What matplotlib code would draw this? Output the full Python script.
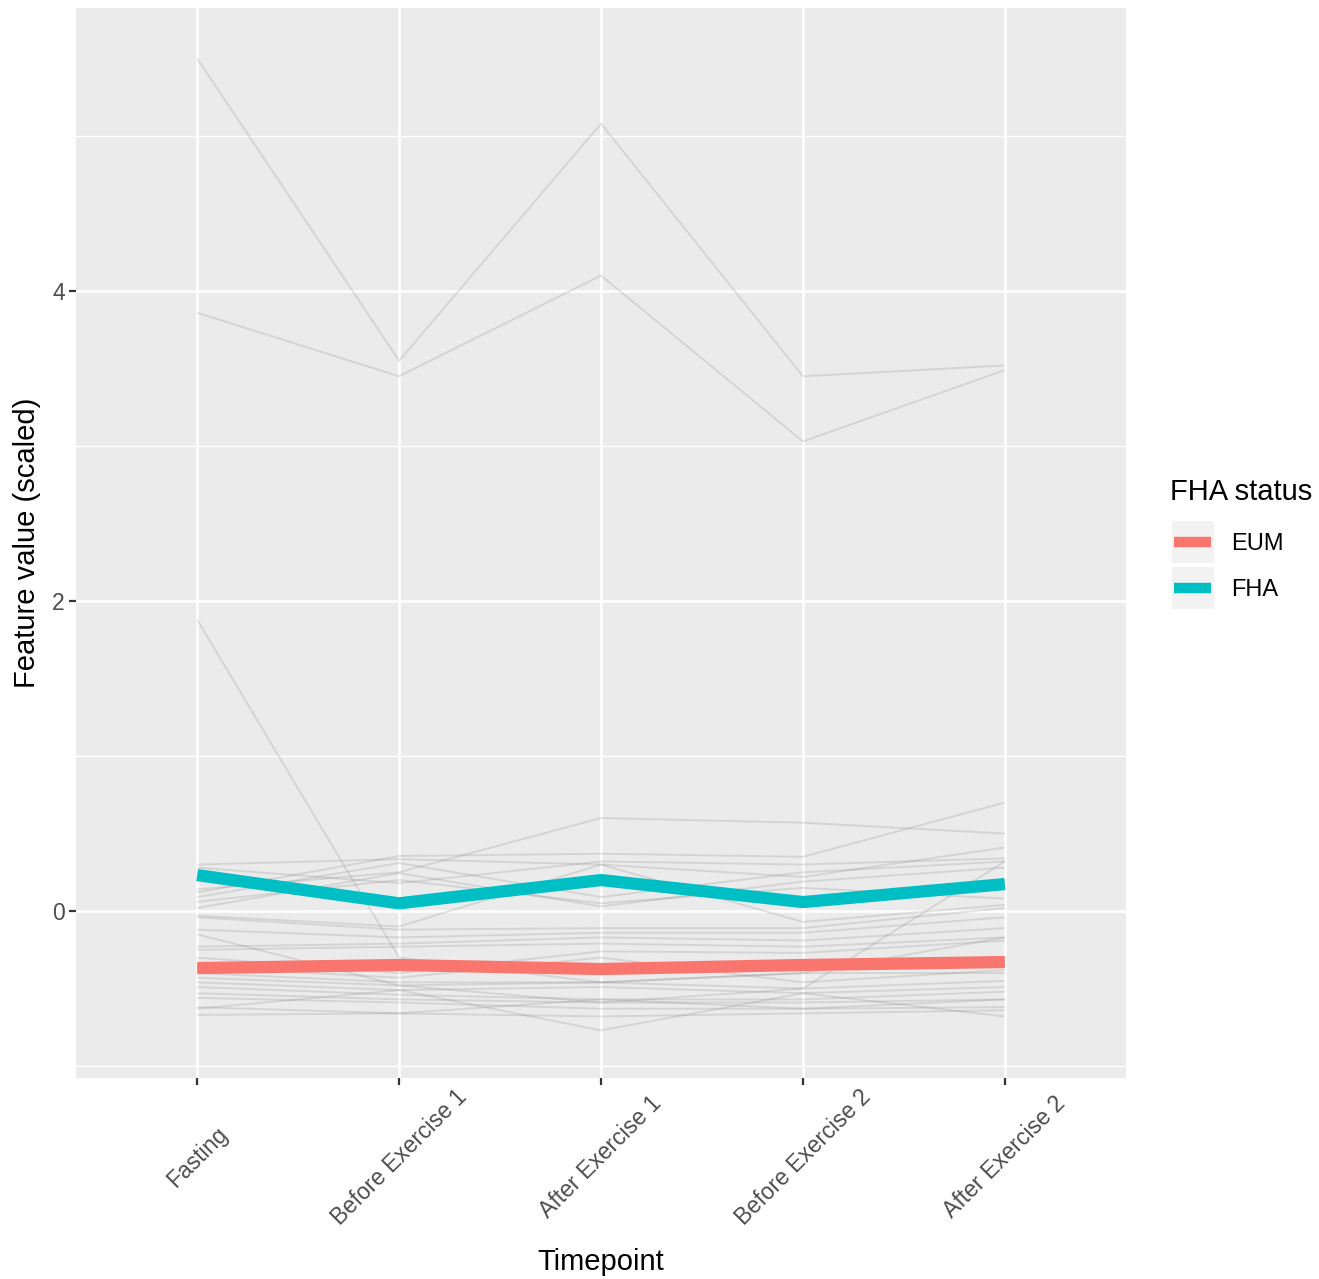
import numpy as np
import matplotlib.pyplot as plt
from matplotlib.patches import Rectangle
from matplotlib.lines import Line2D

timepoints = ['Fasting', 'Before Exercise 1', 'After Exercise 1',
              'Before Exercise 2', 'After Exercise 2']

# individual feature trajectories (scaled)
individuals = [
    [5.50, 3.55, 5.08, 3.45, 3.52],
    [3.86, 3.45, 4.10, 3.03, 3.49],
    [1.88, -0.30, -0.46, -0.40, -0.17],
    [0.30, 0.335, 0.30, 0.22, 0.41],
    [0.28, 0.18, 0.32, 0.30, 0.34],
    [0.14, 0.25, 0.60, 0.57, 0.50],
    [0.12, 0.355, 0.37, 0.35, 0.70],
    [0.09, 0.31, 0.09, 0.25, 0.32],
    [0.06, 0.20, 0.05, 0.15, 0.08],
    [0.02, 0.245, 0.03, 0.19, 0.28],
    [-0.03, -0.10, 0.30, -0.07, 0.04],
    [-0.04, -0.12, -0.11, -0.11, 0.02],
    [-0.12, -0.17, -0.14, -0.14, -0.04],
    [-0.23, -0.21, -0.17, -0.19, -0.11],
    [-0.25, -0.23, -0.21, -0.23, -0.17],
    [-0.30, -0.40, -0.26, -0.27, -0.19],
    [-0.36, -0.43, -0.30, -0.46, -0.38],
    [-0.40, -0.46, -0.46, -0.40, -0.40],
    [-0.43, -0.48, -0.46, -0.50, -0.45],
    [-0.46, -0.51, -0.49, -0.53, -0.49],
    [-0.49, -0.54, -0.57, -0.57, -0.52],
    [-0.53, -0.57, -0.59, -0.59, -0.57],
    [-0.56, -0.59, -0.63, -0.63, -0.62],
    [-0.62, -0.66, -0.68, -0.66, -0.64],
    [-0.63, -0.51, -0.77, -0.53, -0.68],
    [-0.67, -0.66, -0.57, -0.63, -0.57],
    [-0.15, -0.48, -0.59, -0.50, 0.32],
]

groups = ['EUM', 'FHA']
group_colors = ['#F8766D', '#00BFC4']
mean_eum = [-0.368, -0.348, -0.374, -0.348, -0.329]
mean_fha = [0.232, 0.050, 0.200, 0.058, 0.174]

W, H = 1319, 1279
fig = plt.figure(figsize=(W / 100, H / 100), dpi=100)
ax = fig.add_axes([76 / W, 1 - 1078 / H, (1126 - 76) / W, (1078 - 8) / H])
ax.set_facecolor('#EBEBEB')

x = np.arange(len(timepoints))
for row in individuals:
    ax.plot(x, row, color='#7A7A7A', alpha=0.2, lw=1.4, solid_capstyle='butt')

ax.plot(x, mean_eum, color=group_colors[0], lw=8.8, solid_capstyle='butt')
ax.plot(x, mean_fha, color=group_colors[1], lw=8.8, solid_capstyle='butt')

ax.set_xlim(-0.6, 4.6)
ax.set_ylim(-1.077, 5.826)
ax.set_xticks(x)
ax.set_yticks([0, 2, 4])
ax.set_yticks([-1, 1, 3, 5], minor=True)
ax.grid(which='major', color='white', lw=1.9)
ax.grid(which='minor', axis='y', color='white', lw=0.95)
ax.set_axisbelow(True)
for s in ax.spines.values():
    s.set_visible(False)

ax.set_xticklabels(timepoints, rotation=45, ha='center', va='center',
                   rotation_mode='anchor')
ax.tick_params(axis='x', which='major', length=5, width=1.6, color='#333333',
               labelsize=16.5, labelcolor='#4D4D4D', pad=52)
ax.tick_params(axis='y', which='major', length=5, width=1.6, color='#333333',
               labelsize=16.5, labelcolor='#4D4D4D', pad=3)
ax.tick_params(axis='y', which='minor', length=0)
for lab in ax.get_xticklabels() + ax.get_yticklabels():
    lab.set_family('Liberation Sans')

ax.set_xlabel('Timepoint', fontsize=21, family='Liberation Sans')
ax.set_ylabel('Feature value (scaled)', fontsize=21, family='Liberation Sans')
ax.xaxis.set_label_coords(0.5, -(1248 - 1078) / 1070, transform=ax.transAxes)
ax.yaxis.set_label_coords(-(76 - 41) / 1050, 0.5, transform=ax.transAxes)

# legend drawn by hand in ggplot style
fig.text(1170 / W, 1 - 492 / H, 'FHA status', fontsize=21,
         family='Liberation Sans', va='center', ha='left')
for i, (g, c) in enumerate(zip(groups, group_colors)):
    top = 521 + i * 46
    fig.patches.append(Rectangle((1172 / W, 1 - (top + 42) / H), 42 / W, 42 / H,
                                 transform=fig.transFigure, facecolor='#F2F2F2',
                                 edgecolor='none'))
    yc = 1 - (top + 21) / H
    fig.lines.append(Line2D([1174 / W, 1211 / W], [yc, yc], color=c, lw=7.5,
                            transform=fig.transFigure, solid_capstyle='butt'))
    fig.text(1231 / W, yc - 2 / H, g, fontsize=17, family='Liberation Sans',
             va='center', ha='left')

fig.savefig('out.png', dpi=100)
